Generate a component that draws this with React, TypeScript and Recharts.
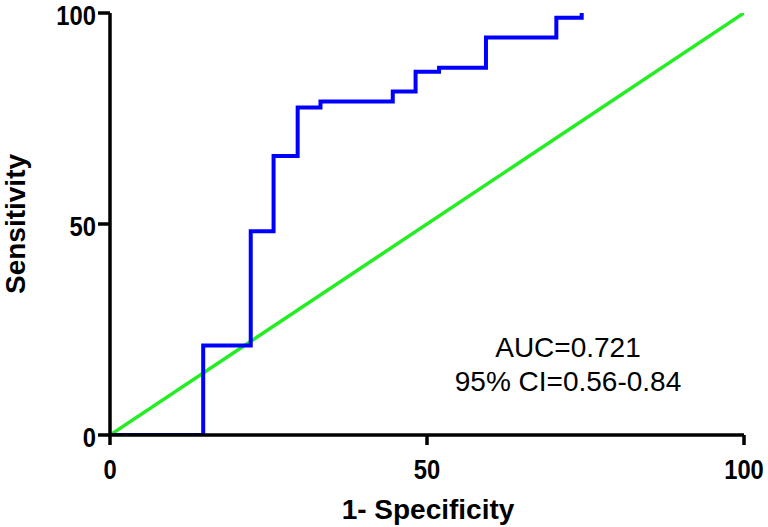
import { LineChart, Line, XAxis, YAxis } from 'recharts';

// ROC curve (step corners)
const fpr = [0, 14.7, 22.2, 25.8, 29.6, 33.2, 44.6, 48.2, 51.9, 59.3, 70.4, 74.4];
const tpr = [0, 21.2, 48.3, 66.1, 77.6, 79.0, 81.4, 86.1, 87.0, 94.2, 98.9, 100];
// reference (chance) line
const refX = [0, 100];
const refY = [0, 100];
const ticks = [0, 50, 100];

const rocData = fpr.map((x, i) => ({ x, y: tpr[i] }));
const refData = refX.map((x, i) => ({ x, y: refY[i] }));

const tickStyle = { fontFamily: '"Liberation Sans", Arial, sans-serif', fontWeight: 'bold', fontSize: 27, fill: '#000' };

// narrow bold tick labels (the original uses a condensed face)
const XTick = (props: any) => {
  const { x, y, payload } = props;
  return (
    <g transform={`translate(${x},${y + 20}) scale(0.88,1)`}>
      <text x={0} y={0} textAnchor="middle" style={tickStyle}>
        {payload.value}
      </text>
    </g>
  );
};

const YTick = (props: any) => {
  const { x, y, payload } = props;
  return (
    <g transform={`translate(${x},${y + 12}) scale(0.88,1)`}>
      <text x={0} y={0} textAnchor="end" style={tickStyle}>
        {payload.value}
      </text>
    </g>
  );
};

const App = () => {
  return (
    <div style={{ position: 'absolute', left: 0, top: 0, background: '#fff' }}>
      <LineChart
        width={768}
        height={527}
        margin={{ top: 13, right: 24, left: 0, bottom: 0 }}
      >
        <XAxis
          dataKey="x"
          type="number"
          domain={[0, 100]}
          ticks={ticks}
          allowDataOverflow
          height={92}
          stroke="#000"
          strokeWidth={3.5}
          tickSize={10}
          tickMargin={14}
          tick={<XTick />}
        />
        <XAxis
          xAxisId="top"
          orientation="top"
          type="number"
          domain={[0, 100]}
          height={0}
          stroke="#000"
          strokeWidth={3.5}
          tick={false}
          tickLine={false}
        />
        <YAxis
          dataKey="y"
          type="number"
          domain={[0, 100]}
          ticks={ticks}
          allowDataOverflow
          width={110}
          stroke="#000"
          strokeWidth={3.5}
          tickSize={12}
          tickMargin={2}
          tick={<YTick />}
        />
        <YAxis
          yAxisId="right"
          orientation="right"
          type="number"
          domain={[0, 100]}
          width={0}
          stroke="#000"
          strokeWidth={3.5}
          tick={false}
          tickLine={false}
        />
        <Line
          data={refData}
          dataKey="y"
          type="linear"
          stroke="#22ee22"
          strokeWidth={3.5}
          dot={false}
          isAnimationActive={false}
        />
        <Line
          data={rocData}
          dataKey="y"
          type="stepAfter"
          stroke="#0000ff"
          strokeWidth={4}
          dot={false}
          isAnimationActive={false}
        />
        <text
          x={568}
          y={357}
          textAnchor="middle"
          style={{ fontFamily: '"Liberation Sans", Arial, sans-serif', fontSize: 28, fill: '#000' }}
        >
          AUC=0.721
        </text>
        <text
          x={568}
          y={391}
          textAnchor="middle"
          style={{ fontFamily: '"Liberation Sans", Arial, sans-serif', fontSize: 28, fill: '#000' }}
        >
          95% CI=0.56-0.84
        </text>
        <text
          x={428}
          y={519}
          textAnchor="middle"
          style={{ fontFamily: '"Liberation Sans", Arial, sans-serif', fontWeight: 'bold', fontSize: 28, fill: '#000' }}
        >
          1- Specificity
        </text>
        <text
          x={25}
          y={224}
          textAnchor="middle"
          transform="rotate(-90 25 224)"
          style={{ fontFamily: '"Liberation Sans", Arial, sans-serif', fontWeight: 'bold', fontSize: 28, fill: '#000' }}
        >
          Sensitivity
        </text>
      </LineChart>
    </div>
  );
};

export default App;
